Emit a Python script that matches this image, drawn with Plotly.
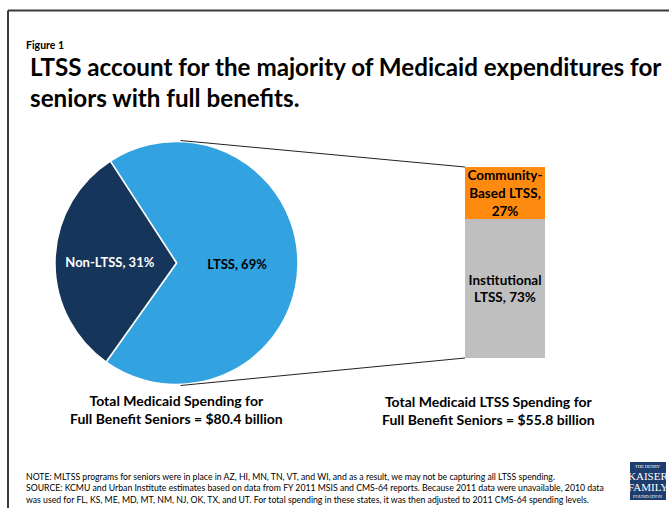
import plotly.graph_objects as go

W, H = 669, 508
FONT = "Lato"

# ---- data ----
pie_labels = ["LTSS", "Non-LTSS"]
pie_values = [69, 31]
pie_colors = ["#33A2E0", "#15355A"]
pie_text_colors = ["#000000", "#FFFFFF"]

bar_category = ["LTSS"]
bar_labels = ["Institutional LTSS", "Community-Based LTSS"]
bar_values = [73, 27]
bar_text = ["Institutional<br>LTSS, 73%", "Community-<br>Based LTSS,<br>27%"]
bar_colors = ["#BFBFBF", "#FF8A10"]

title_text = "LTSS account for the majority of Medicaid expenditures for<br>seniors with full benefits."
caption_left = "Total Medicaid Spending for<br>Full Benefit Seniors = $80.4 billion"
caption_right = "Total Medicaid LTSS Spending for<br>Full Benefit Seniors = $55.8 billion"
notes = ("NOTE: MLTSS programs for seniors were in place in AZ, HI, MN, TN, VT, and WI, and as a result, we may not be capturing all LTSS spending.<br>"
         "SOURCE: KCMU and Urban Institute estimates based on data from FY 2011 MSIS and CMS-64 reports. Because 2011 data were unavailable, 2010 data<br>"
         "was used for FL, KS, ME, MD, MT, NM, NJ, OK, TX, and UT. For total spending in these states, it was then adjusted to 2011 CMS-64 spending levels.")

# ---- layout geometry (pixels) ----
pie_cx, pie_cy, pie_r = 176.5, 263, 121.5
bar_x0, bar_x1, bar_top, bar_bot = 465, 545, 167, 358

def px(x):
    return x / W

def py(y):
    return 1 - y / H

fig = go.Figure()

fig.add_trace(go.Pie(
    labels=pie_labels, values=pie_values, sort=False,
    direction="clockwise", rotation=-33,
    marker=dict(colors=pie_colors, line=dict(color="white", width=1.5)),
    texttemplate="%{label}, %{value}%", textposition="inside",
    insidetextorientation="horizontal",
    textfont=dict(family=FONT, size=13, color=pie_text_colors, weight="bold"),
    domain=dict(x=[px(pie_cx - pie_r), px(pie_cx + pie_r)],
                y=[py(pie_cy + pie_r), py(pie_cy - pie_r)]),
    showlegend=False, hoverinfo="label+percent",
))

for lab, val, txt, col in zip(bar_labels, bar_values, bar_text, bar_colors):
    fig.add_trace(go.Bar(
        x=bar_category, y=[val], name=lab, text=[txt],
        marker=dict(color=col, line=dict(width=0)),
        textposition="inside", insidetextanchor="middle", constraintext="none",
        textfont=dict(family=FONT, size=13.5, color="#000000", weight="bold"),
        xaxis="x", yaxis="y", showlegend=False, hoverinfo="name+y",
    ))

fig.update_layout(
    width=W, height=H, margin=dict(l=0, r=0, t=0, b=0),
    paper_bgcolor="white", plot_bgcolor="white",
    barmode="stack", bargap=0,
    xaxis=dict(domain=[px(bar_x0), px(bar_x1)], visible=False, fixedrange=True),
    yaxis=dict(domain=[py(bar_bot), py(bar_top)], range=[0, 100], visible=False, fixedrange=True),
    font=dict(family=FONT, color="#000000"),
)

shapes = [
    # frame
    dict(type="line", xref="paper", yref="paper", x0=px(8), x1=px(8), y0=py(10.5), y1=py(H + 5),
         line=dict(color="#3a3a3a", width=2)),
    dict(type="line", xref="paper", yref="paper", x0=px(8), x1=px(W + 5), y0=py(10.5), y1=py(10.5),
         line=dict(color="#3a3a3a", width=2)),
    # connector lines
    dict(type="line", xref="paper", yref="paper", x0=px(pie_cx + 4), y0=py(pie_cy - pie_r - 1),
         x1=px(bar_x0), y1=py(bar_top), line=dict(color="#222222", width=1)),
    dict(type="line", xref="paper", yref="paper", x0=px(pie_cx + 4), y0=py(pie_cy + pie_r + 1),
         x1=px(bar_x0), y1=py(bar_bot), line=dict(color="#222222", width=1)),
    # logo box
    dict(type="rect", xref="paper", yref="paper", x0=px(630), x1=px(666), y0=py(500), y1=py(462),
         fillcolor="#1C3D6E", line=dict(width=0)),
]

annotations = [
    dict(text="<b>Figure 1</b>", x=px(24), y=py(45), xanchor="left", yanchor="middle",
         font=dict(size=10.5, family=FONT)),
    dict(text="<b>" + title_text.replace("<br>", "</b><br><b>") + "</b>", x=px(28), y=py(82),
         xanchor="left", yanchor="middle", align="left",
         font=dict(size=24.2, family=FONT)),
    dict(text="<b>" + caption_left.replace("<br>", "</b><br><b>") + "</b>", x=px(pie_cx), y=py(409),
         xanchor="center", yanchor="middle", align="center",
         font=dict(size=14, family=FONT)),
    dict(text="<b>" + caption_right.replace("<br>", "</b><br><b>") + "</b>", x=px(488), y=py(410),
         xanchor="center", yanchor="middle", align="center",
         font=dict(size=14, family=FONT)),
    dict(text=notes, x=px(24), y=py(487.5), xanchor="left", yanchor="middle", align="left",
         font=dict(size=8.7, family=FONT)),
    dict(text="THE HENRY", x=px(648), y=py(466.5), xanchor="center", yanchor="middle", showarrow=False,
         font=dict(size=4.5, family="Liberation Serif", color="white")),
    dict(text="KAISER", x=px(648), y=py(476), xanchor="center", yanchor="middle",
         font=dict(size=11, family="Liberation Serif", color="white")),
    dict(text="FAMILY", x=px(648), y=py(487), xanchor="center", yanchor="middle",
         font=dict(size=11, family="Liberation Serif", color="white")),
    dict(text="FOUNDATION", x=px(648), y=py(496), xanchor="center", yanchor="middle",
         font=dict(size=4.5, family="Liberation Serif", color="white")),
]
for a in annotations:
    a.setdefault("showarrow", False)
    a["xref"] = "paper"
    a["yref"] = "paper"

fig.update_layout(shapes=shapes, annotations=annotations)
fig.write_html("out.html")
